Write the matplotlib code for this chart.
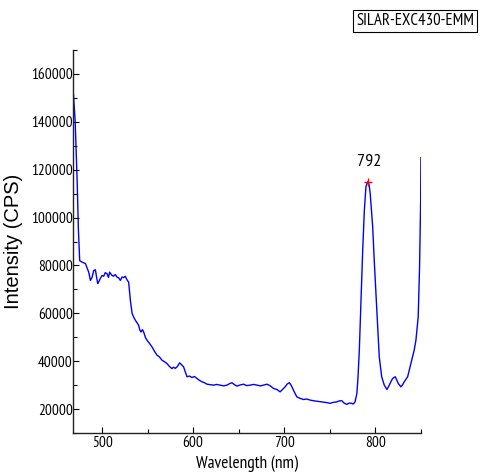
import matplotlib
matplotlib.use("Agg")
import matplotlib.pyplot as plt
from matplotlib.ticker import MultipleLocator

wavelength = [468.5, 470.4, 472.6, 474.0, 475.4, 478.0, 481.7, 483.5, 485.3, 487.2, 489.0,
              490.8, 492.6, 494.0, 495.2, 496.8, 498.1, 500.0, 501.8, 503.5, 505.5, 507.0,
              508.3, 510.5, 512.4, 514.5, 516.5, 518.3, 520.1, 522.0, 523.7, 525.5, 527.4,
              529.2, 531.1, 533.0, 535.0, 536.6, 538.5, 540.2, 541.5, 542.8, 544.3, 545.7,
              547.5, 549.4, 552.0, 554.9, 557.5, 560.4, 563.0, 565.9, 568.5, 571.4, 574.0,
              576.8, 578.5, 580.5, 582.8, 585.2, 587.5, 589.6, 591.5, 593.3, 596.0, 598.8,
              601.5, 604.3, 607.0, 609.8, 612.5, 615.3, 619.0, 622.5, 626.0, 629.9, 633.5,
              637.2, 640.0, 642.7, 645.5, 648.2, 652.0, 655.4, 659.0, 662.8, 666.5, 670.1,
              674.0, 677.4, 681.1, 684.5, 688.4, 692.0, 695.7, 698.5, 701.2, 703.5, 705.9,
              708.0, 710.3, 714.0, 717.5, 721.3, 725.0, 728.6, 732.0, 736.0, 739.5, 743.2,
              747.0, 750.6, 754.0, 757.9, 760.5, 763.4, 766.0, 768.9, 771.5, 774.4, 776.0,
              778.0, 780.0, 781.2, 782.7, 784.5, 786.4, 788.2, 790.0, 792.0, 793.5, 794.7,
              797.4, 799.1, 801.0, 802.9, 804.6, 807.3, 810.1, 813.1, 815.6, 817.5, 819.3,
              822.2, 825.5, 828.4, 830.0, 832.1, 835.8, 839.4, 843.0, 844.9, 847.4, 848.9,
              850.1, 850.4]
intensity = [151500, 140400, 115400, 94600, 82000, 81400, 80800, 79000, 77200, 73750, 75000,
             77900, 78200, 75000, 72400, 73500, 74600, 75800, 75500, 77000, 76500, 75000,
             77200, 76000, 75500, 76200, 75100, 74800, 73750, 75200, 74900, 75500, 74000,
             73000, 65400, 59900, 58200, 57100, 56000, 55000, 53000, 52200, 53200, 52200,
             50000, 48750, 47500, 45950, 44200, 42500, 41800, 40400, 39800, 39000, 37800,
             36900, 37500, 37000, 37800, 39300, 38500, 37600, 35500, 33500, 33800, 33200,
             33600, 32800, 32000, 31400, 31000, 30400, 30200, 30000, 30300, 30000, 29700,
             30000, 30600, 31000, 30200, 29600, 30100, 30400, 29800, 30000, 30300, 30000,
             29700, 30000, 30400, 29800, 28600, 28200, 27200, 28300, 29300, 30500, 31000,
             29800, 27900, 25100, 24500, 24000, 24200, 23750, 23500, 23300, 23100, 22900,
             22700, 22400, 22800, 23000, 23400, 23500, 22500, 21950, 22500, 22400, 22100,
             23000, 26500, 33000, 44600, 65400, 86250, 102900, 113000, 115000, 113500, 109900,
             96000, 82000, 68200, 54300, 41800, 33500, 30000, 28200, 30000, 31500, 32800,
             33500, 30700, 29300, 30000, 31400, 33500, 39000, 44600, 48750, 58500, 79300,
             107000, 125000]

peak_wl = 792
peak_val = 115000
peak_label = "792"

narrow = ['Liberation Sans Narrow', 'PT Sans Narrow', 'Liberation Sans', 'DejaVu Sans']
regular = ['Liberation Sans', 'DejaVu Sans']
plt.rcParams['font.family'] = narrow

fig = plt.figure(figsize=(4.93, 4.75), dpi=100)
ax = fig.add_axes([0.148, 0.0884, 0.706, 0.8063])

ax.plot(wavelength, intensity, color='#0000ff', lw=1.0)
ax.plot([peak_wl], [peak_val], marker='+', color='red', ms=6, mew=1.0)
ax.text(peak_wl + 1, peak_val + 5000, peak_label, ha='center', va='bottom', fontsize=13)

ax.set_xlim(468, 850.5)
ax.set_ylim(10000, 170000)
ax.xaxis.set_major_locator(MultipleLocator(100))
ax.xaxis.set_minor_locator(MultipleLocator(50))
ax.yaxis.set_minor_locator(MultipleLocator(10000))
ax.set_yticks([20000, 40000, 60000, 80000, 100000, 120000, 140000, 160000])

for s in ['top', 'right']:
    ax.spines[s].set_visible(False)
for s in ['left', 'bottom']:
    ax.spines[s].set_linewidth(1.0)
    ax.spines[s].set_color('#222222')

ax.tick_params(which='major', direction='in', length=4, width=0.8, labelsize=11, pad=2)
ax.tick_params(which='minor', direction='in', length=3, width=0.8)
ax.tick_params(axis='y', pad=0)

ax.set_xlabel('Wavelength (nm)', fontsize=12.5, labelpad=4)
ax.set_ylabel('Intensity (CPS)', fontsize=14.5, labelpad=6, family=regular)

fig.text(0.8418, 0.9558, 'SILAR-EXC430-EMM', ha='center', va='center', fontsize=12,
         bbox=dict(boxstyle='square,pad=0.2', fc='white', ec='black', lw=0.8))

fig.savefig('out.png', dpi=100)
